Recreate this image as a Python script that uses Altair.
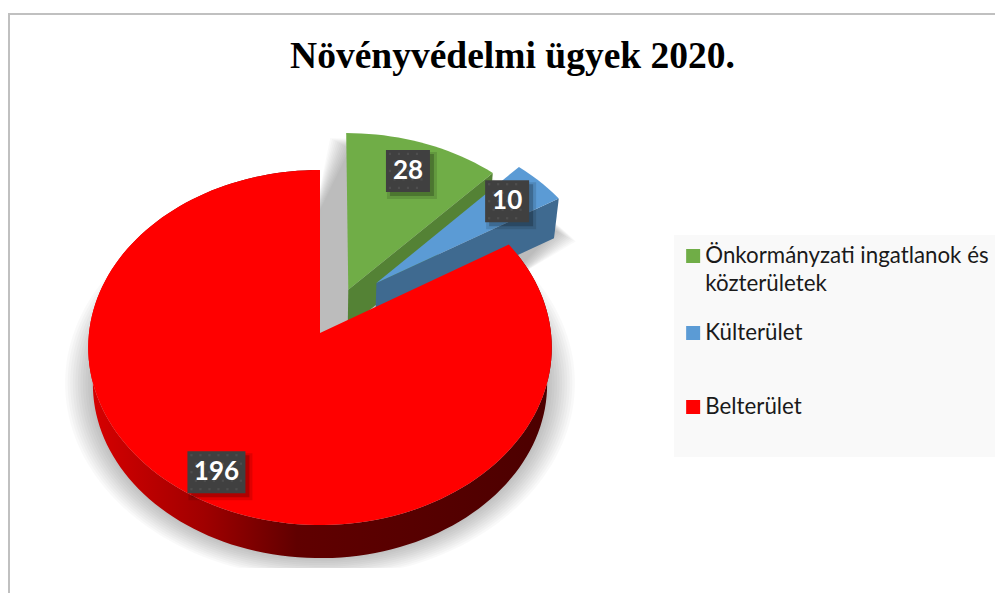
import math
import altair as alt
import pandas as pd

# --- values ---
categories = ["Önkormányzati ingatlanok és közterületek", "Külterület", "Belterület"]
values = [28, 10, 196]
colors = ["#70ad47", "#5b9bd5", "#ff0000"]
side_colors = ["#548235", "#3f6a90", "#800000"]
title_text = "Növényvédelmi ügyek 2020."

# --- drawing geometry (tilted pie projection) ---
W, H = 987, 585
CX, CY = 320, 333
A, B, R = 176.3, 0.0817, 231
DEPTH, SHRINK = 37, 0.98
explode = [(0.125, 0.25), (0.25, 0.29), (0.0, 0.0)]
label_frac = [0.8, 0.8, 0.85]


def proj(u, v, depth=0.0, shrink=1.0):
    d = 1 + B * v
    return CX + R * u / d * shrink, CY - A * v / d * shrink + depth


total = sum(values)
spans = []
start = 0.0
for val in values:
    end = start + 360.0 * val / total
    spans.append((start, end))
    start = end


def rim(i, n=None):
    a0, a1 = spans[i]
    n = n or max(4, int((a1 - a0) / 2))
    du, dv = explode[i]
    return [(du + math.sin(math.radians(a0 + (a1 - a0) * k / n)),
             dv + math.cos(math.radians(a0 + (a1 - a0) * k / n))) for k in range(n + 1)]


def rows(name, pts, **kw):
    return [{"poly": name, "o": k, "x": p[0], "y": p[1], **kw} for k, p in enumerate(pts)]


faces, walls, red_side, shadow = [], [], [], []
for i, cat in enumerate(categories):
    apex = explode[i]
    r = rim(i)
    faces += rows("f%d" % i, [proj(*apex)] + [proj(*p) for p in r], cat=cat)
    if i < 2:
        tip = r[-1]
        pts = [proj(*apex), proj(*tip), proj(*tip, DEPTH, SHRINK), proj(*apex, DEPTH, SHRINK)]
        walls += rows("w%d" % i, pts, col=side_colors[i])
red_rim = rim(2)
red_side = rows("s", [proj(*p) for p in red_rim] +
                [proj(*p, DEPTH, SHRINK) for p in reversed(red_rim)])

for k in range(12):
    e = 0.10 - 0.011 * k
    pts = []
    for u, v in rim(2):
        x, y = proj(u, v)
        pts.append((320 + (x - 320) * (1 + e), min(350 + (y - 350) * (1 + e) + 36, 568)))
    # the exploded wedges cast a shadow that climbs higher up the gap
    for j, (u, v) in enumerate(rim(0)):
        x, y = proj(u, v)
        pts.append((x - e * 160 * (1 - j / 21), y + 14 - e * 90))
    for u, v in rim(1):
        x, y = proj(u, v)
        pts.append((x + e * 170, y + 34 + e * 90))
    shadow += rows("h%d" % k, pts)

labels, dots = [], []
for i, (cat, val) in enumerate(zip(categories, values)):
    mid = math.radians(sum(spans[i]) / 2)
    du, dv = explode[i]
    f = label_frac[i]
    x, y = proj(du + f * math.sin(mid), dv + f * math.cos(mid))
    x -= 1.5
    hw = 22 if val < 100 else 29
    labels.append({"x": x, "y": y, "x0": x - hw, "x1": x + hw, "y0": y - 21, "y1": y + 21,
                   "sx0": x - hw + 4, "sx1": x + hw + 4, "sy0": y - 17, "sy1": y + 25,
                   "tx0": x - hw + 1, "tx1": x + hw + 7, "ty0": y - 19, "ty1": y + 28,
                   "t": str(val)})
    for a in range(int(2 * hw // 9)):
        for b in range(5):
            dots.append({"x": x - hw + 4 + a * 9 + (4.5 if b % 2 else 0), "y": y - 21 + 4 + b * 8.5})
dots = [d for d in dots if any(l["x0"] < d["x"] < l["x1"] and l["y0"] < d["y"] < l["y1"] for l in labels)]

xs = alt.Scale(domain=[8, 8 + W], range=[0, W], nice=False, zero=False)
ys = alt.Scale(domain=[8, 8 + H], range=[0, H], nice=False, zero=False)
X = alt.X("x:Q", scale=xs, axis=None)
Y = alt.Y("y:Q", scale=ys, axis=None)


def poly(data, **mk):
    return alt.Chart(pd.DataFrame(data)).mark_line(
        interpolate="linear-closed", strokeWidth=0, **mk
    ).encode(x=X, y=Y, order="o:Q", detail="poly:N")


legend = alt.Legend(
    title=None, orient="none", legendX=682 - 8, legendY=219 - 8, padding=0,
    symbolType="square", symbolSize=196, symbolStrokeWidth=0, symbolOpacity=1,
    labelFont="Lato", labelFontSize=22.3, labelColor="#1a1a1a", labelLimit=320,
    clipHeight=74, rowPadding=0, labelOffset=1,
    labelExpr="datum.label == 'Önkormányzati ingatlanok és közterületek' ? "
              "['Önkormányzati ingatlanok és', 'közterületek'] : datum.label",
)

box = alt.Chart(pd.DataFrame([{"a": 674, "b": 995, "c": 235, "d": 457}])).mark_rect(
    color="#f9f9f9").encode(x=alt.X("a:Q", scale=xs, axis=None), x2="b:Q",
                            y=alt.Y("c:Q", scale=ys, axis=None), y2="d:Q")

frame_top = alt.Chart(pd.DataFrame([{"a": 0}])).mark_rule(color="#c0c0c0", strokeWidth=2).encode(
    x=alt.value(0), x2=alt.value(W), y=alt.value(6))
frame_left = alt.Chart(pd.DataFrame([{"a": 0}])).mark_rule(color="#c0c0c0", strokeWidth=2).encode(
    x=alt.value(1), y=alt.value(5), y2=alt.value(H))

shadow_l = poly(shadow, fill="#000000", fillOpacity=0.022)
side_grad = alt.Gradient(gradient="linear", x1=0, x2=1, y1=0, y2=0, stops=[
    alt.GradientStop(offset=0, color="#d80000"),
    alt.GradientStop(offset=0.25, color="#a00000"),
    alt.GradientStop(offset=0.45, color="#600000"),
    alt.GradientStop(offset=1, color="#4c0000"),
])
red_side_l = poly(red_side, fill=side_grad)

faces_df = pd.DataFrame(faces)
cscale = alt.Scale(domain=categories, range=colors)


def face(i):
    return alt.Chart(faces_df[faces_df.poly == "f%d" % i]).mark_line(
        interpolate="linear-closed", strokeWidth=0).encode(
        x=X, y=Y, order="o:Q", detail="poly:N",
        fill=alt.Fill("cat:N", scale=cscale, legend=legend if i == 0 else None))


lab_df = pd.DataFrame(labels)
lab_shadow2 = alt.Chart(lab_df).mark_rect(color="#000000", opacity=0.12).encode(
    x=alt.X("tx0:Q", scale=xs, axis=None), x2="tx1:Q",
    y=alt.Y("ty0:Q", scale=ys, axis=None), y2="ty1:Q")
lab_shadow = alt.Chart(lab_df).mark_rect(color="#000000", opacity=0.22).encode(
    x=alt.X("sx0:Q", scale=xs, axis=None), x2="sx1:Q",
    y=alt.Y("sy0:Q", scale=ys, axis=None), y2="sy1:Q")
lab_box = alt.Chart(lab_df).mark_rect(color="#404040").encode(
    x=alt.X("x0:Q", scale=xs, axis=None), x2="x1:Q",
    y=alt.Y("y0:Q", scale=ys, axis=None), y2="y1:Q")
lab_dots = alt.Chart(pd.DataFrame(dots)).mark_square(size=5, color="#4e4e4e", opacity=1).encode(x=X, y=Y)
lab_text = alt.Chart(lab_df).mark_text(
    font="Lato", fontWeight="bold", fontSize=26, color="#ffffff", baseline="middle", align="center"
).encode(x=X, y=Y, text="t:N")

# walls of green, then green top, blue wall, blue top, then red on top
chart = alt.layer(
    frame_top, frame_left, box, shadow_l, red_side_l,
    poly([w for w in walls if w["poly"] == "w0"], fill=side_colors[0]),
    face(0),
    poly([w for w in walls if w["poly"] == "w1"], fill=side_colors[1]),
    face(1), face(2),
    lab_shadow2, lab_shadow, lab_box, lab_dots, lab_text,
).properties(
    width=W, height=H, padding=0, autosize=alt.AutoSizeParams(type="none"),
    title=alt.TitleParams(title_text, font="Liberation Serif", fontWeight="bold", fontSize=37.5,
                          color="#000000", anchor="middle", dx=11, dy=67, offset=0),
).configure(
    background="#ffffff",
    view=alt.ViewConfig(stroke=None),
    style={"guide-label": {"lineHeight": 28}},
)
chart.save("out.html", embed_options={"renderer": "svg", "actions": False})
